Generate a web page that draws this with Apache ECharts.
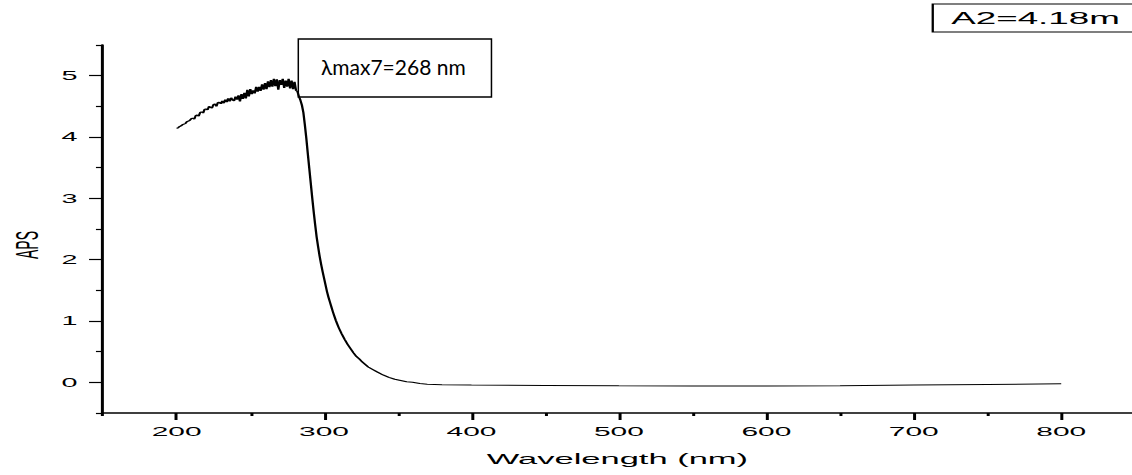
<!DOCTYPE html>
<html><head><meta charset="utf-8">
<script src="https://cdn.jsdelivr.net/npm/echarts@6/dist/echarts.min.js"></script>
<style>
html,body{margin:0;padding:0;background:#fff;overflow:hidden;width:1132px;height:475px}
#wrap{position:absolute;left:0;top:0;width:492px;height:475px;transform:scaleX(2.300813);transform-origin:0 0;}
</style></head><body><div id="wrap"></div><script>
// The original figure is horizontally stretched ~2.3x; the chart is drawn at 492px and stretched.
const S = 1132 / 492;

const wavelength = [
  200,201,202,203,204,205,206,207,208,209,
  210,211,212,213,214,215,216,217,218,219,
  220,221,222,223,224,225,226,227,228,229,
  230,231,232,233,234,235,236,237,238,239,
  240,241,242,243,244,245,246,247,248,249,
  250,251,252,253,254,255,256,257,258,259,
  260,261,262,263,264,265,266,267,268,269,
  270,271,272,273,274,275,276,277,278,279,
  280,281,282,283,284,285,286,287,288,289,
  290,291,292,293,294,295,296,297,298,299,
  300,301,302,303,304,305,306,307,308,309,
  310,312,314,316,318,320,322,324,326,328,
  330,333,336,340,344,348,352,356,360,365,
  370,380,400,450,500,550,600,650,700,750,800
];
const aps = [
  4.14,4.15,4.17,4.18,4.20,4.21,4.22,4.25,4.26,4.27,
  4.30,4.31,4.29,4.35,4.36,4.34,4.40,4.41,4.39,4.45,
  4.46,4.44,4.50,4.50,4.47,4.53,4.54,4.50,4.56,4.57,
  4.54,4.59,4.55,4.61,4.57,4.63,4.58,4.64,4.60,4.59,
  4.66,4.61,4.68,4.58,4.70,4.62,4.72,4.63,4.77,4.66,
  4.78,4.70,4.76,4.71,4.82,4.74,4.82,4.75,4.86,4.77,
  4.88,4.78,4.91,4.81,4.93,4.82,4.95,4.83,4.94,4.77,
  4.93,4.85,4.95,4.80,4.92,4.82,4.95,4.79,4.92,4.78,
  4.90,4.76,4.74,4.66,4.60,4.52,4.40,4.20,3.98,3.73,
  3.49,3.25,3.01,2.78,2.57,2.37,2.21,2.06,1.93,1.81,
  1.70,1.59,1.48,1.39,1.31,1.23,1.15,1.08,1.01,0.95,
  0.89,0.79,0.70,0.62,0.55,0.48,0.42,0.38,0.33,0.29,
  0.25,0.21,0.17,0.12,0.08,0.05,0.03,0.01,0.00,-0.02,
  -0.03,-0.04,-0.045,-0.05,-0.055,-0.058,-0.058,-0.055,-0.045,-0.035,-0.025
];

const xMajorTicks = [200,300,400,500,600,700,800];
const xMinorTicks = [150,250,350,450,550,650,750];
const yMajorTicks = [0,1,2,3,4,5];
const yMinorTicks = [-0.5,0.5,1.5,2.5,3.5,4.5,5.5];
const seriesName = 'A2=4.18m';
const peakLabel = 'λmax7=268 nm';
const xTitle = 'Wavelength (nm)';
const yTitle = 'APS';

const font = '"Liberation Sans", Arial, sans-serif';
const chart = echarts.init(document.getElementById('wrap'), null, {renderer: 'svg'});

const baseX = {type:'value', min:150, max:848, position:'bottom', splitLine:{show:false}};
const baseY = {type:'value', min:-0.5, max:5.5, position:'left', splitLine:{show:false}};

chart.setOption({
  animation: false,
  backgroundColor: '#fff',
  grid: {left: 44.7, right: 0, top: 45, bottom: 62},
  legend: {
    data: [{name: seriesName, icon: 'none'}],
    left: 405.4, top: 4,
    itemWidth: 0, itemHeight: 14,
    padding: [6, 14, 6, 3],
    borderColor: '#000', borderWidth: 1,
    selectedMode: false,
    textStyle: {fontFamily: font, fontSize: 16, color: '#000'}
  },
  xAxis: [
    Object.assign({}, baseX, {
      name: xTitle, nameLocation: 'middle', nameGap: 38,
      nameTextStyle: {fontFamily: font, fontSize: 15, color: '#000'},
      axisLine: {show: true, onZero: false, lineStyle: {color: '#000', width: 1.5}},
      axisTick: {show: true, customValues: xMajorTicks, length: 7, lineStyle: {color: '#000', width: 1.3}},
      axisLabel: {show: true, customValues: xMajorTicks, margin: 12, fontFamily: font, fontSize: 13, color: '#000'}
    }),
    Object.assign({}, baseX, {
      axisLine: {show: false, onZero: false},
      axisTick: {show: true, customValues: xMinorTicks, length: 3, lineStyle: {color: '#000', width: 1.3}},
      axisLabel: {show: false}
    })
  ],
  yAxis: [
    Object.assign({}, baseY, {
      axisLine: {show: true, onZero: false, lineStyle: {color: '#000', width: 1.3}},
      axisTick: {show: true, customValues: yMajorTicks, length: 6, lineStyle: {color: '#000', width: 1.2}},
      axisLabel: {show: true, customValues: yMajorTicks, margin: 11, fontFamily: font, fontSize: 12.5, color: '#000'}
    }),
    Object.assign({}, baseY, {
      axisLine: {show: false, onZero: false},
      axisTick: {show: true, customValues: yMinorTicks, length: 3, lineStyle: {color: '#000', width: 1.2}},
      axisLabel: {show: false}
    })
  ],
  graphic: [
    {
      type: 'text', x: 11.6, y: 245, rotation: Math.PI / 2,
      style: {text: yTitle, fontFamily: font, fontSize: 14, fill: '#000', align: 'center', verticalAlign: 'middle'}
    },
    {
      type: 'group', x: 298.3 / S, y: 39, scaleX: 1 / S, z: 100,
      children: [
        {type: 'rect', shape: {x: 0, y: 0, width: 193, height: 58},
         style: {fill: '#fff', stroke: '#000', lineWidth: 1.5}},
        {type: 'text', x: 95, y: 28,
         style: {text: peakLabel, fontFamily: 'Lato, "Open Sans", sans-serif', fontSize: 21, fill: '#000', align: 'center', verticalAlign: 'middle'}}
      ]
    }
  ],
  series: [{
    name: seriesName,
    type: 'line',
    xAxisIndex: 0, yAxisIndex: 0,
    showSymbol: false,
    data: wavelength.map((w, i) => [w, aps[i]]),
    lineStyle: {color: '#000', width: 1},
    itemStyle: {color: '#000'},
    z: 2
  }]
});
</script></body></html>
